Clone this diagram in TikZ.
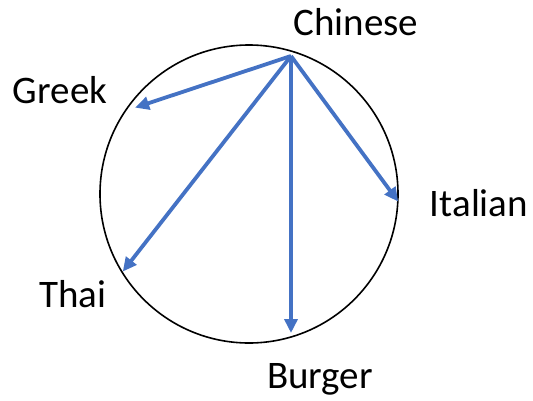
\documentclass[tikz,border=0pt]{standalone}
\usepackage{fontspec}
\setmainfont{Carlito}
\usetikzlibrary{arrows.meta}

\definecolor{arrowblue}{RGB}{68,114,196}

\begin{document}
\begin{tikzpicture}[
    x=1pt, y=-1pt,
    lbl/.style={font=\fontsize{39}{44}\selectfont, inner sep=0pt},
    arr/.style={-{Triangle[length=14pt, width=13pt]}, line width=3.8pt, draw=arrowblue, shorten >=-2pt}
]
\useasboundingbox (0,0) rectangle (533,400);

% Circle
\draw[line width=1.6pt] (249,194) circle[radius=149];

% Points on the circle
\coordinate (chn) at (291,56);
\coordinate (grk) at (137,107);
\coordinate (tha) at (124,270);
\coordinate (brg) at (291,331);
\coordinate (ita) at (397,200);

% Labels
\node[lbl] (chinese) at (356,22)  {Chinese};
\node[lbl] (greek)   at (60,90)   {Greek};
\node[lbl] (italian) at (479,203) {Italian};
\node[lbl] (thai)    at (73,294)  {Thai};
\node[lbl] (burger)  at (320,379) {Burger};

% Arrows
\draw[arr] (chn) -- (grk);
\draw[arr] (chn) -- (tha);
\draw[arr] (chn) -- (brg);
\draw[arr] (chn) -- (ita);
\end{tikzpicture}
\end{document}
